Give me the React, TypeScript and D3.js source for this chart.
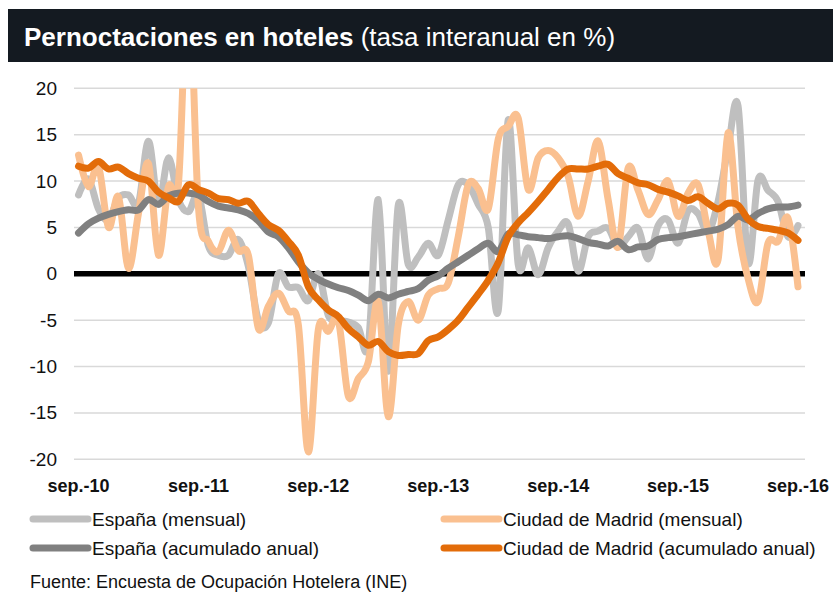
import React from 'react';
import * as d3 from 'd3';

// Monthly data, sep-2010 .. sep-2016 (73 months)
const espanaMensual = [
  8.5, 10.2, 7.0, 5.8, 8.2, 8.5, 7.6, 14.3, 7.5, 12.5,
  8.0, 6.7, 8.5, 3.0, 2.0, 2.0, 3.7, 0.8, -5.0, -5.3,
  0.0, -1.4, -1.5, -2.9, 0.0, -4.5, -5.0, -5.2, -5.8, -7.7,
  8.0, -10.5, 7.4, 1.0, 1.8, 3.3, 2.0, 5.8, 9.6, 9.6,
  7.5, 5.0, -4.0, 16.6, 1.0, 2.8, -0.1, 2.8, 4.6, 5.4,
  0.3, 4.0, 4.6, 4.9, 2.9, 4.0, 4.9, 1.6, 5.2, 5.8,
  3.3, 6.8, 6.5, 4.5, 7.8, 13.5, 18.1, 1.2, 10.1, 9.0,
  7.8, 4.0, 5.2,
];
const madridMensual = [
  12.8, 9.4, 11.6, 5.0, 8.3, 0.6, 6.5, 11.9, 2.0, 9.4,
  9.7, 32.0, 7.2, 3.5, 2.4, 4.7, 2.5, 2.0, -5.9, -3.5,
  -2.1, -4.0, -5.5, -19.2, -6.0, -6.2, -5.0, -13.2, -11.3, -9.5,
  -3.0, -15.4, -5.5, -3.0, -5.0, -2.3, -1.6, -1.0, 4.0, 9.6,
  9.2, 7.0, 14.5, 15.9, 16.8, 9.1, 12.5, 13.3, 12.5, 10.5,
  6.2, 10.0, 14.3, 8.0, 2.9, 11.4, 9.0, 6.4, 8.0, 10.0,
  6.2, 8.7, 9.6, 4.7, 1.5, 15.2, 5.0, -0.5, -3.0, 3.3,
  3.5, 6.0, -1.4,
];
const espanaAcum = [
  4.4, 5.4, 6.0, 6.4, 6.7, 6.9, 6.9, 8.0, 7.5, 8.4,
  8.7, 8.7, 8.5, 7.8, 7.3, 7.1, 6.9, 6.5, 5.7, 4.5,
  4.0, 2.8, 1.3, 0.1, -0.6, -1.1, -1.5, -1.8, -2.3, -2.9,
  -2.2, -2.6, -2.2, -1.9, -1.6, -0.7, -0.2, 0.6, 1.3, 2.0,
  2.7, 3.3, 2.4, 4.3, 4.2, 4.0, 3.9, 3.8, 4.0, 4.1,
  3.8, 3.4, 3.2, 3.0, 3.5, 2.6, 2.9, 3.0, 3.7, 3.9,
  4.0, 4.2, 4.4, 4.6, 4.8, 5.3, 6.2, 5.8, 6.5, 7.0,
  7.2, 7.2, 7.4,
];
const madridAcum = [
  11.6, 11.4, 12.1, 11.3, 11.5, 10.8, 10.3, 10.0, 8.8, 8.2,
  7.8, 9.6, 9.1, 8.7, 8.1, 8.0, 7.6, 7.8, 6.5, 5.3,
  4.7, 3.5, 2.0, -1.4, -2.8, -3.9, -4.6, -5.9, -6.8, -7.7,
  -7.3, -8.4, -8.8, -8.7, -8.6, -7.2, -6.8, -6.0, -5.0, -3.6,
  -2.2, -0.7, 1.2, 4.0, 5.5, 6.6, 7.8, 9.1, 10.4, 11.3,
  11.3, 11.3, 11.6, 11.8, 10.8, 10.3, 9.8, 9.6, 9.1, 8.8,
  8.4, 7.9, 8.3, 7.6, 7.0, 7.6, 7.4, 5.9, 5.1, 4.9,
  4.7, 4.4, 3.6,
];

const xTickLabels = ['sep.-10', 'sep.-11', 'sep.-12', 'sep.-13', 'sep.-14', 'sep.-15', 'sep.-16'];
const xTickIndex = [0, 12, 24, 36, 48, 60, 72];
const yTicks = [20, 15, 10, 5, 0, -5, -10, -15, -20];

const seriesNames = [
  'España (mensual)',
  'Ciudad de Madrid (mensual)',
  'España (acumulado anual)',
  'Ciudad de Madrid (acumulado anual)',
];
const seriesColors = ['#bfbfbf', '#fac090', '#808080', '#e36c09'];
const seriesValues = [espanaMensual, madridMensual, espanaAcum, madridAcum];

const title1 = 'Pernoctaciones en hoteles';
const title2 = ' (tasa interanual en %)';
const source = 'Fuente: Encuesta de Ocupación Hotelera (INE)';

const W = 833;
const H = 593;
const FONT = '"Liberation Sans", Arial, Helvetica, sans-serif';

export default function App() {
  const x = d3.scaleLinear().domain([0, 72]).range([78.5, 798]);
  const y = d3.scaleLinear().domain([-20, 20]).range([459.3, 88.3]);
  const gridX0 = 74;
  const gridX1 = 805;

  const line = d3
    .line<number>()
    .x((_, i) => x(i))
    .y((d) => y(d))
    .curve(d3.curveCatmullRom.alpha(0));

  const series = seriesNames.map((name, k) => ({
    name,
    color: seriesColors[k],
    values: seriesValues[k],
  }));

  const legendPos = [
    { lx: 33, ly: 519 },
    { lx: 444, ly: 519 },
    { lx: 33, ly: 548 },
    { lx: 444, ly: 548 },
  ];

  return (
    <svg
      width={W}
      height={H}
      viewBox={`0 0 ${W} ${H}`}
      style={{ position: 'absolute', left: 0, top: 0, background: '#fff' }}
      fontFamily={FONT}
    >
      <defs>
        <clipPath id="plotClip">
          <rect x={0} y={y(20)} width={W} height={H - y(20)} />
        </clipPath>
      </defs>
      <rect x={0} y={0} width={W} height={H} fill="#fff" />

      {/* title bar */}
      <rect x={8} y={9} width={W - 8} height={53} fill="#141a21" />
      <text x={24} y={46} fill="#fff" fontSize={26}>
        <tspan fontWeight={600}>{title1}</tspan>
        <tspan>{title2}</tspan>
      </text>

      {/* gridlines */}
      {yTicks.map((t) =>
        t === 0 ? null : (
          <line
            key={`g${t}`}
            x1={gridX0}
            x2={gridX1}
            y1={y(t)}
            y2={y(t)}
            stroke="#d9d9d9"
            strokeWidth={1.5}
          />
        )
      )}
      {/* y labels */}
      {yTicks.map((t) => (
        <text
          key={`yl${t}`}
          x={57}
          y={y(t) + 6.5}
          textAnchor="end"
          fontSize={19}
          fill="#111"
        >
          {t}
        </text>
      ))}
      {/* zero line */}
      <line x1={gridX0} x2={gridX1} y1={y(0)} y2={y(0)} stroke="#000" strokeWidth={5.5} />

      {/* series */}
      <g clipPath="url(#plotClip)">
        {series.map((s) => (
          <path
            key={s.name}
            d={line(s.values) || ''}
            fill="none"
            stroke={s.color}
            strokeWidth={7}
            strokeLinecap="round"
            strokeLinejoin="round"
          />
        ))}
      </g>

      {/* x labels */}
      {xTickLabels.map((lab, k) => (
        <text
          key={lab}
          x={x(xTickIndex[k])}
          y={492}
          textAnchor="middle"
          fontSize={18}
          fontWeight="bold"
          fill="#111"
        >
          {lab}
        </text>
      ))}

      {/* legend */}
      {series.map((s, k) => (
        <g key={`lg${k}`}>
          <line
            x1={legendPos[k].lx}
            x2={legendPos[k].lx + 55}
            y1={legendPos[k].ly}
            y2={legendPos[k].ly}
            stroke={s.color}
            strokeWidth={7}
            strokeLinecap="round"
          />
          <text x={legendPos[k].lx + 59} y={legendPos[k].ly + 7} fontSize={19} fill="#111">
            {s.name}
          </text>
        </g>
      ))}

      {/* source */}
      <text x={30} y={588} fontSize={18} fill="#111">
        {source}
      </text>
    </svg>
  );
}
